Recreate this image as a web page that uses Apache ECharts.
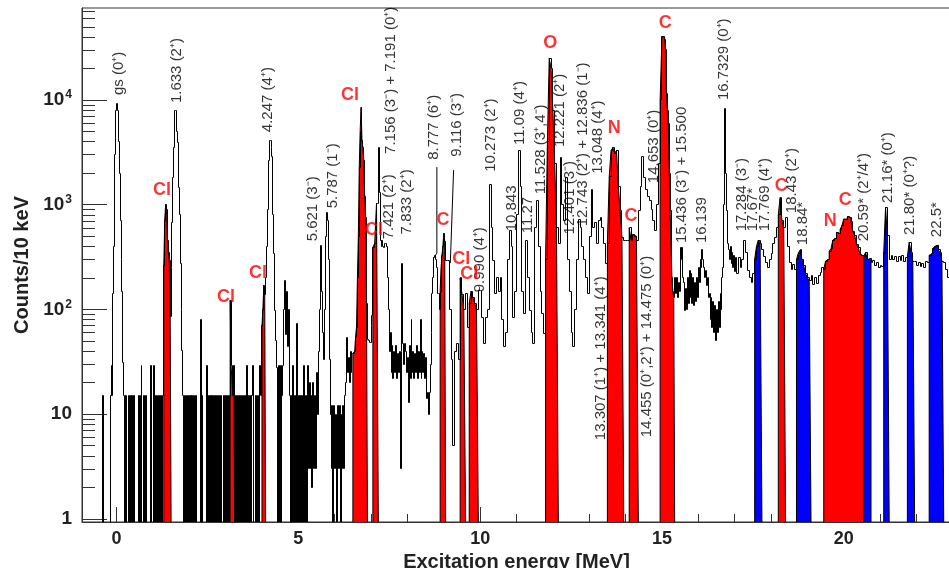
<!DOCTYPE html>
<html><head><meta charset="utf-8">
<script src="https://cdn.jsdelivr.net/npm/echarts@6/dist/echarts.min.js"></script>
<style>html,body{margin:0;padding:0;background:#fff}#c{width:949px;height:568px}</style>
</head><body><div id="c"></div>
<script>
// ---------------- data (counts per bin) ----------------
// segments: start energy [MeV], bin width [MeV]
const segStart = [-0.95, 1.05, 3.05, 5.05, 7.05, 9.05, 11.05, 13.05, 15.05, 17.05, 19.05, 21.05];
const segWidth = [0.025, 0.025, 0.025, 0.025, 0.025, 0.05, 0.05, 0.05, 0.025, 0.05, 0.05, 0.05];
const countsA = [0,0,0,0,0,0,0,0,0,0, 0,0,0,0,0,0,0,0,0,0, 0,0,0,15,0,0,0,0,0,0, 0,15,29,15,142,400,3000,8000,9300,8000, 4000,2000,700,300,150,31,15,0,15,0, 0,15,0,15,0,15,0,15,0,0, 0,0,15,0,15,29,0,0,15,0, 15,0,0,0,0,29,0,0,0,29];
const countsB = [0,15,0,15,0,15,0,15,0,15, 265,710,1000,900,460,350,295,85,250,670, 1800,3500,7900,7900,5000,3900,1470,800,275,100, 41,15,0,15,0,15,0,15,0,15, 0,15,0,15,0,15,0,0,0,0, 80,0,15,0,0,0,0,29,0,15, 0,15,0,15,0,15,0,15,0,15, 0,15,0,15,0,0,15,0,15,0];
const countsC = [15,0,15,123,29,29,15,29,0,15, 0,15,0,15,0,15,0,15,0,15, 0,29,0,15,0,15,0,15,29,0, 0,15,0,15,0,29,15,29,70,100, 170,140,200,400,900,2670,4140,4140,3500,2870, 800,345,98,50,28,0,29,0,29,0, 15,29,100,190,58,150,44,100,15,0, 15,0,29,0,15,0,74,0,15,0];
const countsD = [15,0,15,0,29,0,15,0,29,3, 20,3,15,2,20,3,15,3,25,10, 40,100,410,410,150,60,33,100,500,850, 700,300,33,10,3,12,0,12,3,10, 0,12,3,12,0,10,3,12,3,15, 20,54,25,35,20,40,25,38,38,38, 40,55,68,200,500,2280,5000,8500,4140,3500, 2670,1200,760,114,52,50,48,48,70,87];
const countsE = [390,390,430,430,1030,1030,3500,1300,460,400, 460,400,390,430,430,400,200,100,40,60, 25,45,22,40,25,45,22,38,25,40, 3,40,275,47,30,47,40,25,35,13, 45,22,80,25,40,22,38,25,45,22, 40,25,80,22,40,25,38,22,35,14, 16,10,16,30,60,143,200,315,330,300, 250,143,143,100,150,250,330,400,535,450];
const countsF = [295,295,100,33,5,40,47,33,200,140,100,143,68,115,150,130,115,100,153,153,84,47,84,100,1560,600,295,143,200,150,200,80,44,60,300,570,400,84,150,800];
const countsG = [3300,1500,150,92,460,200,98,60,47,600,1100,400,150,92,59,300,4000,25000,20000,8000,2500,600,430,2800,1000,700,1800,300,150,60,44,100,300,720,600,400,300,200,143,500];
const countsH = [1400,600,670,430,700,760,600,430,275,430,1840,3300,3500,3100,3300,1480,880,490,460,460,460,600,460,520,500,460,880,1500,2900,1800,1400,1200,1100,900,700,570,1000,2500,10000,40000];
const countsI = [40000,38000,30000,11600,8000,6000,2000,880,400,200, 150,130,200,143,200,130,180,150,390,300, 390,200,180,98,160,100,200,114,237,130, 220,114,200,110,180,120,200,130,250,180, 300,250,370,300,250,200,237,170,200,130, 143,80,130,68,120,60,110,51,100,60, 120,68,143,100,200,250,1000,8300,2000,880, 430,370,300,400,275,350,250,330,230,315];
const countsJ = [220,315,250,300,460,350,237,200,180,220,300,400,460,430,370,320,280,250,300,340,430,490,600,800,1170,700,600,760,400,280,240,270,240,300,345,370,300,260,220,200];
const countsK = [190,210,175,200,178,210,225,250,240,290,300,360,380,460,480,545,530,580,630,730,730,770,750,690,560,510,420,390,335,325,320,350,300,305,280,295,265,280,250,265];
const countsL = [255,350,940,510,300,330,300,320,290,320,295,325,290,310,320,440,350,290,285,265,280,255,275,250,290,280,330,340,380,400,410,370,350,290,280,240,200,123,100,100];

const redRanges  = [[1.30,1.50],[3.125,3.25],[4.00,4.10],[6.50,6.90],[7.05,7.20],[8.90,9.05],[9.45,9.60],[9.70,9.95],[11.80,12.15],[13.50,13.95],[14.10,14.35],[14.95,15.35],[18.20,18.40],[19.45,20.55]];
const blueRanges = [[17.55,17.75],[18.70,19.10],[20.55,20.75],[21.10,21.25],[21.75,21.95],[22.35,22.75]];

const xTickMajor = [0,5,10,15,20];
const xTickMinor = [1,2,3,4,6,7,8,9,11,12,13,14,16,17,18,19,21,22];
const yTickExp = [0,1,2,3,4];

const levelText = ['gs (0⁺)','1.633 (2⁺)','4.247 (4⁺)','5.621 (3⁻)','5.787 (1⁻)','7.156 (3⁻) + 7.191 (0⁺)','7.421 (2⁺)','7.833 (2⁺)','8.777 (6⁺)','9.116 (3⁻)','9.990 (4⁺)','10.273 (2⁺)','10.843','11.09 (4⁺)','11.27','11.528 (3⁺,4⁻)','12.221 (2⁺)','12.401 (3⁻)','12.743 (2⁺) + 12.836 (1⁻)','13.048 (4⁺)','13.307 (1⁺) + 13.341 (4⁺)','14.455 (0⁺,2⁺) + 14.475 (0⁺)','14.653 (0⁺)','15.436 (3⁻) + 15.500','16.139','16.7329 (0⁺)','17.284 (3⁻)','17.67*','17.769 (4⁺)','18.43 (2⁺)','18.84*','20.59* (2⁺/4⁺)','21.16* (0⁺)','21.80* (0⁺?)','22.5*'];
const levelE     = [0.07,1.65,4.17,5.41,5.96,7.55,7.50,7.99,8.74,9.37,9.99,10.30,10.88,11.10,11.30,11.66,12.20,12.48,12.83,13.25,13.33,14.59,14.79,15.56,16.11,16.69,17.21,17.51,17.84,18.58,18.88,20.54,21.20,21.83,22.57];
const levelCount = [11140,9340,4930,447,923,3055,467,521,2680,2865,146,2060,557,3716,533,1260,3555,521,622,1972,5.65,6.03,1606,430,430,9970,557,557,557,831,411,447,1037,513,490];

const markText  = ['Cl','Cl','Cl','Cl','Cl','C','Cl','Cl','O','N','C','C','C','N','C'];
const markE     = [1.25,3.01,3.89,6.42,7.08,8.98,9.48,9.70,11.93,13.69,14.15,15.09,18.28,19.63,20.04];
const markCount = [1378,131,222,11140,569,710,302,217,35000,5400,780,54200,1517,702,1114];

const pointerA = [[8.81,2286],[8.81,345],[8.72,308]];
const pointerB = [[9.27,2140],[9.18,277]];

// ---------------- build ----------------
const segCounts = [countsA,countsB,countsC,countsD,countsE,countsF,countsG,countsH,countsI,countsJ,countsK,countsL];
const bins = [];
segCounts.forEach((arr, s) => arr.forEach((c, k) => bins.push({
  e0: +(segStart[s] + k*segWidth[s]).toFixed(4), e1: +(segStart[s] + (k+1)*segWidth[s]).toFixed(4), c: c })));
const yLogMin = -0.029, yLogMax = 4.878;
const lg = c => c > 0 ? Math.log10(c) : yLogMin;
function outline(list){
  const pts = [[list[0].e0, yLogMin]];
  list.forEach(b => { const v = lg(b.c); pts.push([b.e0, v], [b.e1, v]); });
  pts.push([list[list.length-1].e1, yLogMin]);
  return pts;
}
const inRange = r => bins.filter(b => b.e0 >= r[0]-1e-6 && b.e1 <= r[1]+1e-6);
const FONT = "'Liberation Sans', Arial, Helvetica, sans-serif";

const series = [];
function fillSeries(r, color){
  return {type:'line', data: outline(inRange(r)), symbol:'none', silent:true, z:2,
    lineStyle:{color:'#000', width:1}, areaStyle:{color: color, opacity:1, origin:'start'}, animation:false};
}
redRanges.forEach(r => series.push(fillSeries(r, '#ff0000')));
blueRanges.forEach(r => series.push(fillSeries(r, '#0000ff')));

// histogram outline: each bin draws its rising/falling edge and its top (pixel-snapped)
const snap = p => Math.round(p - 0.5) + 0.5;
const histData = bins.map((b, i) => [b.e0, b.e1, lg(b.c), i > 0 ? lg(bins[i-1].c) : yLogMin]);
series.push({type:'custom', data: histData, z:3, silent:true, clip:true, animation:false,
  encode:{x:[0,1], y:[2,3]},
  renderItem: (params, api) => {
    const e0 = api.value(0), e1 = api.value(1), v = api.value(2), vp = api.value(3);
    const a = api.coord([e0, vp]), b = api.coord([e0, v]), c = api.coord([e1, v]);
    const x0 = snap(a[0]), x1 = snap(c[0]), ya = snap(a[1]), yb = snap(b[1]);
    return {type:'group', children:[
      {type:'line', shape:{x1:x0, y1:ya, x2:x0, y2:yb}, style:{stroke:'#000', lineWidth:1}},
      {type:'line', shape:{x1:x0, y1:yb, x2:x1, y2:yb}, style:{stroke:'#000', lineWidth:1}}
    ]};
  }});
series.push({type:'line', data: pointerA.map(p=>[p[0], lg(p[1])]), symbol:'none', silent:true, z:4, lineStyle:{color:'#000', width:1}});
series.push({type:'line', data: pointerB.map(p=>[p[0], lg(p[1])]), symbol:'none', silent:true, z:4, lineStyle:{color:'#000', width:1}});
series.push({type:'scatter', symbolSize:1, itemStyle:{color:'rgba(0,0,0,0)'}, silent:true, z:5, clip:false,
  data: levelText.map((t,i)=>[levelE[i], lg(levelCount[i]), t]),
  label:{show:true, position:'inside', rotate:90, align:'left', verticalAlign:'middle', formatter: p=>p.data[2],
    color:'#000', fontSize:15, fontFamily:FONT}});
series.push({type:'scatter', symbolSize:1, itemStyle:{color:'rgba(0,0,0,0)'}, silent:true, z:5, clip:false,
  data: markText.map((t,i)=>[markE[i], lg(markCount[i]), t]),
  label:{show:true, position:'inside', align:'center', verticalAlign:'middle', formatter: p=>p.data[2],
    color:'#ff0000', fontSize:18, fontWeight:'bold', fontFamily:FONT}});

const yMinor = [];
for (let n=0;n<5;n++) for (let m=2;m<=9;m++){ const v = n + Math.log10(m); if (v < yLogMax) yMinor.push(+v.toFixed(5)); }

const axisCol = '#333';
const option = {
  animation:false,
  textStyle:{fontFamily:FONT},
  grid:{left:82, right:-2, top:8, bottom:46, show:true, borderColor:axisCol, borderWidth:1, containLabel:false, outerBoundsMode:'none'},
  xAxis:[
    {type:'value', min:-0.95, max:22.95, position:'bottom',
     axisLine:{show:true, onZero:false, lineStyle:{color:axisCol, width:1}},
     axisTick:{show:true, inside:true, length:15, customValues:xTickMajor, lineStyle:{color:axisCol}},
     axisLabel:{show:true, customValues:xTickMajor, margin:8, color:'#222', fontSize:18, fontWeight:'bold', fontFamily:FONT},
     splitLine:{show:false},
     name:'Excitation energy [MeV]', nameLocation:'middle', nameGap:26,
     nameTextStyle:{color:'#222', fontSize:20, fontWeight:'bold', fontFamily:FONT}},
    {type:'value', min:-0.95, max:22.95, position:'bottom',
     axisLine:{show:false, onZero:false}, axisLabel:{show:false}, splitLine:{show:false},
     axisTick:{show:true, inside:true, length:8, customValues:xTickMinor, lineStyle:{color:axisCol}}}
  ],
  yAxis:[
    {type:'value', min:yLogMin, max:yLogMax, position:'left',
     axisLine:{show:true, onZero:false, lineStyle:{color:axisCol, width:1}},
     axisTick:{show:true, inside:true, length:25, customValues:yTickExp, lineStyle:{color:axisCol}},
     axisLabel:{show:true, customValues:yTickExp, margin:10,
       formatter: v => { const n = Math.round(v); return n===0 ? '{b|1}' : n===1 ? '{b|10}' : '{b|10}{s|'+n+'}'; },
       rich:{ b:{fontSize:19, fontWeight:'bold', color:'#222', fontFamily:FONT, lineHeight:22},
              s:{fontSize:12, fontWeight:'bold', color:'#222', fontFamily:FONT, lineHeight:12, verticalAlign:'top', padding:[0,0,0,1]} }},
     splitLine:{show:false},
     name:'Counts/10 keV', nameLocation:'middle', nameGap:44, nameRotate:90,
     nameTextStyle:{color:'#222', fontSize:20, fontWeight:'bold', fontFamily:FONT}},
    {type:'value', min:yLogMin, max:yLogMax, position:'left',
     axisLine:{show:false, onZero:false}, axisLabel:{show:false}, splitLine:{show:false},
     axisTick:{show:true, inside:true, length:13, customValues:yMinor, lineStyle:{color:axisCol}}}
  ],
  series: series
};
const chart = echarts.init(document.getElementById('c'), null, {renderer:'canvas'});
chart.setOption(option);
</script></body></html>
